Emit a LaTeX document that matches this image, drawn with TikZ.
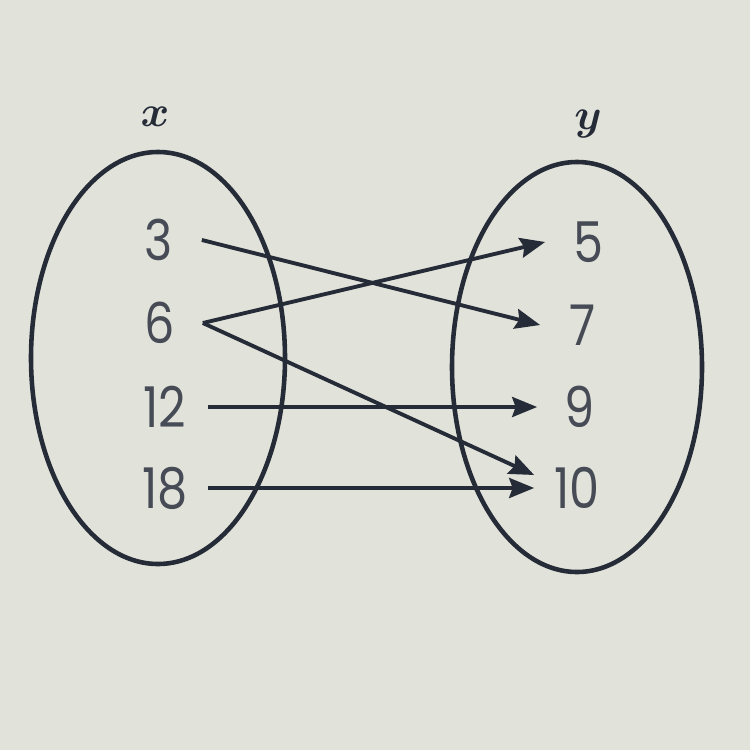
\documentclass[tikz,border=0pt]{standalone}
\usepackage{fontspec}
\setsansfont{Poppins}[FakeStretch=0.85]
\usetikzlibrary{arrows.meta}
\definecolor{PaperGray}{HTML}{E1E3DA}
\definecolor{InkBlue}{HTML}{262B38}

\begin{document}
\begin{tikzpicture}[x=0.02cm,y=-0.02cm,
		num/.style={font=\sffamily\fontsize{32}{32}\selectfont,text=InkBlue!85,inner sep=0pt,minimum width=1.7cm},
		setlabel/.style={font=\fontsize{36}{36}\selectfont\boldmath,text=InkBlue},
		setoval/.style={line width=2.6pt,InkBlue},
		maparrow/.style={-{Stealth[length=0.5cm,width=0.4cm,inset=0.07cm]},line width=2.2pt,InkBlue}]
		\fill[PaperGray] (0,0) rectangle (750,750);
		% the two sets
		\draw[setoval] (158,358) ellipse (127 and 206);
		\draw[setoval] (577,367) ellipse (125 and 205);
		\node[setlabel] (xlab) at (155,117) {$x$};
		\node[setlabel] (ylab) at (588,124) {$y$};
		% domain
		\node[num] (n3) at (159,240) {3};
		\node[num] (n6) at (160,323) {6};
		\node[num] (n12) at (165,407) {12};
		\node[num] (n18) at (165,488) {18};
		% range
		\node[num] (m5) at (588,242) {5};
		\node[num] (m7) at (583,325) {7};
		\node[num] (m9) at (580,407) {9};
		\node[num] (m10) at (577,488) {10};
		% mapping
		\draw[maparrow] (n3.east) -- (m7.west);
		\draw[maparrow] (n6.east) -- (m5.west);
		\draw[maparrow] (n6.east) -- ([yshift=0.26cm]m10.west);
		\draw[maparrow] (n12.east) -- (m9.west);
		\draw[maparrow] (n18.east) -- (m10.west);
	\end{tikzpicture}
\end{document}
